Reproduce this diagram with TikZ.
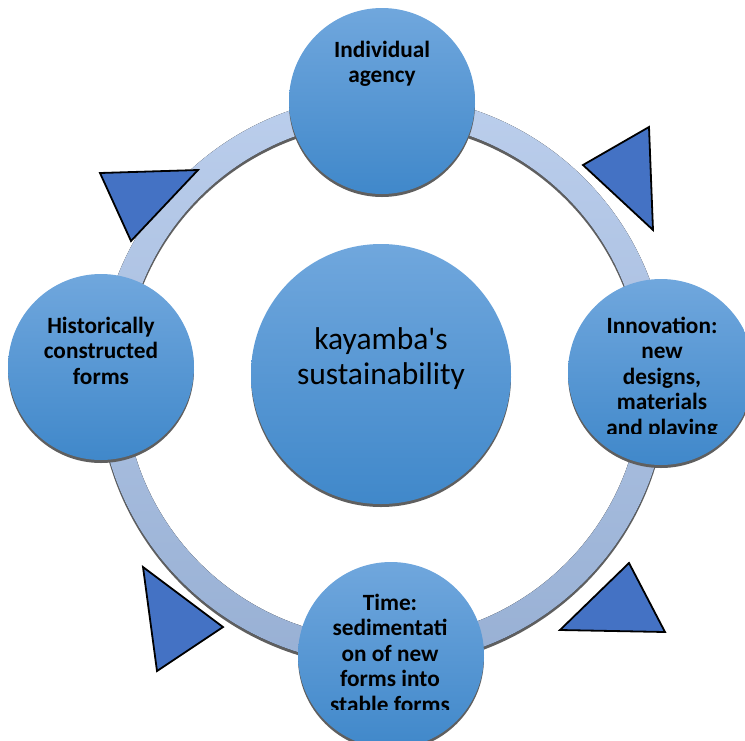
\documentclass[tikz,border=0pt]{standalone}
\usepackage{fontspec}
\setmainfont{Carlito}
\usetikzlibrary{shadows}

\definecolor{nodetop}{RGB}{112,167,221}
\definecolor{nodebot}{RGB}{64,136,202}
\definecolor{ringtop}{RGB}{187,206,236}
\definecolor{ringbot}{RGB}{152,176,212}
\definecolor{tri}{RGB}{68,114,196}
\definecolor{shadowgray}{RGB}{95,95,95}

\begin{document}
\begin{tikzpicture}[x=1pt,y=-1pt,
  bubble/.style={circle,inner sep=0pt,minimum size=#1,
    top color=nodetop,bottom color=nodebot,draw=none,
    drop shadow={shadow xshift=0pt,shadow yshift=-3pt,fill=shadowgray,opacity=1}},
  nodetext/.style={anchor=north,inner sep=0pt,align=center,
    font=\bfseries\fontsize{23.3}{25.5}\selectfont},
  pointer/.style={fill=tri,draw=black,line width=1.8pt,line join=miter}
]
\useasboundingbox (0,0) rectangle (745,740);

% ring behind the satellites, with its shadow
\coordinate (rc) at (383,380);
\fill[shadowgray,even odd rule] ([yshift=-3pt]rc) circle (285pt) ([yshift=-3pt]rc) circle (259pt);
\fill[even odd rule,top color=ringtop,bottom color=ringbot] (rc) circle (285pt) (rc) circle (259pt);

% hub
\node[bubble=260pt] (hub) at (381,374) {};
\node[anchor=north,inner sep=0pt,align=center,font=\fontsize{31.5}{35}\selectfont]
  (hubtext) at (381,327) {\rule{0pt}{20pt}kayamba\textquotesingle s\\sustainability};

% satellites
\node[bubble=186pt] (agency) at (382,101) {};
\node[bubble=186pt] (history) at (101,367) {};
\node[bubble=186pt] (innov) at (661,372) {};
\node[bubble=186pt] (time) at (391,655) {};

\node[nodetext] (agencytext) at (382,37) {\rule{0pt}{20pt}Individual\\agency};
\node[nodetext] (historytext) at (101,313) {\rule{0pt}{20pt}Historically\\constructed\\forms};
\begin{scope}
  \clip (560,250) rectangle (745,433);
  \node[nodetext] (innovtext) at (662,313)
    {\rule{0pt}{20pt}Innovation:\\new\\designs,\\materials\\and playing};
\end{scope}
\begin{scope}
  \clip (290,560) rectangle (490,709);
  \node[nodetext] (timetext) at (390,590)
    {\rule{0pt}{20pt}Time:\\sedimentati\\on of new\\forms into\\stable forms};
\end{scope}

% direction markers between the satellites
\draw[pointer] (100,173) -- (198,170) -- (131,241) -- cycle;
\draw[pointer] (583,165) -- (649,127) -- (653,230) -- cycle;
\draw[pointer] (143,567) -- (223,627) -- (157,671) -- cycle;
\draw[pointer] (629,563) -- (665,632) -- (560,630) -- cycle;
\end{tikzpicture}
\end{document}
